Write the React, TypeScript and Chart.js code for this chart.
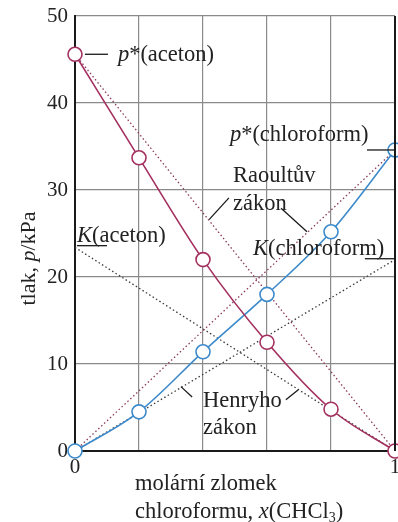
import { useEffect, useRef } from "react";
import { Chart, registerables } from "chart.js";

Chart.register(...registerables);

// Mole fraction of chloroform at the measured compositions
const moleFractions = [0, 0.2, 0.4, 0.6, 0.8, 1];
// Partial vapour pressures, kPa
const pAcetone = [45.6, 33.7, 22.0, 12.5, 4.8, 0];
const pChloroform = [0, 4.5, 11.4, 18.0, 25.2, 34.6];
// Henry's law constants, kPa
const kAcetone = 23.4;
const kChloroform = 22.0;
// Axis ticks
const yTickValues = [0, 10, 20, 30, 40, 50];
const xTickLabels = ["0", "1"];

const SERIF = '"Liberation Serif", "Times New Roman", serif';
const RED = "#a3305f";
const BLUE = "#3d8acb";

type Seg = { t: string; i?: boolean; sub?: boolean };

// Text labels placed in data coordinates
const notes: { x: number; y: number; segs: Seg[] }[] = [
  { x: 0.134, y: 45.5, segs: [{ t: "p", i: true }, { t: "*(aceton)" }] },
  { x: 0.484, y: 36.3, segs: [{ t: "p", i: true }, { t: "*(chloroform)" }] },
  { x: 0.494, y: 31.6, segs: [{ t: "Raoultův" }] },
  { x: 0.494, y: 28.4, segs: [{ t: "zákon" }] },
  { x: 0.006, y: 24.7, segs: [{ t: "K", i: true }, { t: "(aceton)" }] },
  { x: 0.556, y: 23.2, segs: [{ t: "K", i: true }, { t: "(chloroform)" }] },
  { x: 0.4, y: 5.75, segs: [{ t: "Henryho" }] },
  { x: 0.4, y: 2.64, segs: [{ t: "zákon" }] },
];

// Leader lines [x1, y1, x2, y2] in data coordinates
const leaders: number[][] = [
  [0.031, 45.6, 0.103, 45.6],
  [0.9125, 34.6, 1, 34.6],
  [0.006, 23.6, 0.1, 23.6],
  [0.906, 22.1, 1, 22.1],
  [0.419, 26.6, 0.481, 29.1],
  [0.644, 27.9, 0.725, 25.2],
  [0.331, 7.4, 0.366, 6.2],
  [0.659, 5.9, 0.697, 7.0],
];

function drawRich(ctx: CanvasRenderingContext2D, segs: Seg[], x: number, y: number, size: number) {
  let cx = x;
  for (const s of segs) {
    const fs = s.sub ? size * 0.62 : size;
    ctx.font = `${s.i ? "italic " : ""}${fs}px ${SERIF}`;
    ctx.fillText(s.t, cx, y + (s.sub ? size * 0.28 : 0));
    cx += ctx.measureText(s.t).width;
  }
  return cx - x;
}

function richWidth(ctx: CanvasRenderingContext2D, segs: Seg[], size: number) {
  let w = 0;
  for (const s of segs) {
    const fs = s.sub ? size * 0.62 : size;
    ctx.font = `${s.i ? "italic " : ""}${fs}px ${SERIF}`;
    w += ctx.measureText(s.t).width;
  }
  return w;
}

const overlay = {
  id: "overlay",
  afterDatasetsDraw(chart: any) {
    const { ctx, chartArea } = chart;
    const xs = chart.scales.x;
    const ys = chart.scales.y;
    ctx.save();

    // right frame line at x = 1
    ctx.strokeStyle = "#1a1a1a";
    ctx.lineWidth = 2;
    ctx.beginPath();
    ctx.moveTo(chartArea.right, chartArea.top);
    ctx.lineTo(chartArea.right, chartArea.bottom);
    ctx.stroke();

    // leader lines
    ctx.strokeStyle = "#1a1a1a";
    ctx.lineWidth = 1.3;
    for (const [x1, y1, x2, y2] of leaders) {
      ctx.beginPath();
      ctx.moveTo(xs.getPixelForValue(x1), ys.getPixelForValue(y1));
      ctx.lineTo(xs.getPixelForValue(x2), ys.getPixelForValue(y2));
      ctx.stroke();
    }

    // labels
    ctx.fillStyle = "#222";
    ctx.textBaseline = "middle";
    ctx.textAlign = "left";
    for (const n of notes) {
      drawRich(ctx, n.segs, xs.getPixelForValue(n.x), ys.getPixelForValue(n.y), 22.5);
    }

    // y axis title
    const yTitle: Seg[] = [{ t: "tlak, " }, { t: "p", i: true }, { t: "/kPa" }];
    const w = richWidth(ctx, yTitle, 22);
    ctx.save();
    ctx.translate(29, (chartArea.top + chartArea.bottom) / 2 + 25);
    ctx.rotate(-Math.PI / 2);
    drawRich(ctx, yTitle, -w / 2, 0, 22);
    ctx.restore();

    // x axis title
    const left = chartArea.left + 60;
    drawRich(ctx, [{ t: "molární zlomek" }], left, chartArea.bottom + 33, 22.5);
    drawRich(
      ctx,
      [{ t: "chloroformu, " }, { t: "x", i: true }, { t: "(CHCl" }, { t: "3", sub: true }, { t: ")" }],
      left,
      chartArea.bottom + 61,
      22.5
    );
    ctx.restore();
  },
};

export default function App() {
  const ref = useRef<HTMLCanvasElement>(null);

  useEffect(() => {
    document.body.style.margin = "0";
    const canvas = ref.current;
    if (!canvas) return;

    const pts = (ys: number[]) => moleFractions.map((x, i) => ({ x, y: ys[i] }));
    const first = moleFractions[0];
    const last = moleFractions[moleFractions.length - 1];

    const dotted = (data: { x: number; y: number }[], color: string) => ({
      data,
      borderColor: color,
      borderWidth: 1.3,
      borderDash: [1.5, 2.5],
      pointRadius: 0,
      fill: false,
      tension: 0,
      clip: false,
    });

    const curve = (ys: number[], color: string) => ({
      data: pts(ys),
      borderColor: color,
      borderWidth: 1.6,
      pointRadius: 7,
      pointBorderWidth: 1.6,
      pointBackgroundColor: "#fff",
      pointBorderColor: color,
      cubicInterpolationMode: "monotone",
      fill: false,
      clip: false,
    });

    const chart = new Chart(canvas, {
      type: "line",
      data: {
        datasets: [
          curve(pAcetone, RED),
          curve(pChloroform, BLUE),
          // Raoult's law lines
          dotted(
            [
              { x: first, y: pAcetone[0] },
              { x: last, y: 0 },
            ],
            "#8c3a5c"
          ),
          dotted(
            [
              { x: first, y: 0 },
              { x: last, y: pChloroform[pChloroform.length - 1] },
            ],
            "#8c3a5c"
          ),
          // Henry's law lines
          dotted(
            [
              { x: first, y: kAcetone },
              { x: last, y: 0 },
            ],
            "#3a3a3a"
          ),
          dotted(
            [
              { x: first, y: 0 },
              { x: last, y: kChloroform },
            ],
            "#3a3a3a"
          ),
        ] as any,
      },
      options: {
        responsive: false,
        animation: false,
        layout: { autoPadding: false, padding: { top: 16, right: 3, left: 0, bottom: 0 } },
        plugins: {
          legend: { display: false },
          tooltip: { enabled: false },
        },
        scales: {
          x: {
            type: "linear",
            min: 0,
            max: 1,
            afterFit: (s: any) => {
              s.height = 71;
              s.paddingLeft = 0;
              s.paddingRight = 0;
            },
            afterBuildTicks: (s: any) => {
              s.ticks = moleFractions.map((v) => ({ value: v }));
            },
            ticks: {
              color: "#222",
              font: { family: SERIF, size: 21 },
              padding: 4,
              maxRotation: 0,
              autoSkip: false,
              callback: (v: any) => {
                const n = Number(v);
                if (Math.abs(n - 0) < 1e-6) return xTickLabels[0];
                if (Math.abs(n - 1) < 1e-6) return xTickLabels[1];
                return "";
              },
            },
            grid: { color: "#8a8a8a", lineWidth: 1.2, drawTicks: false },
            border: { color: "#1a1a1a", width: 2 },
          },
          y: {
            type: "linear",
            min: 0,
            max: 50,
            afterFit: (s: any) => {
              s.width = 75;
              s.paddingTop = 0;
              s.paddingBottom = 0;
            },
            afterBuildTicks: (s: any) => {
              s.ticks = yTickValues.map((v) => ({ value: v }));
            },
            ticks: {
              color: "#222",
              font: { family: SERIF, size: 21 },
              padding: 7,
            },
            grid: { color: "#8a8a8a", lineWidth: 1.2, drawTicks: false },
            border: { color: "#1a1a1a", width: 2 },
          },
        },
      },
      plugins: [overlay],
    });

    return () => chart.destroy();
  }, []);

  return (
    <div style={{ width: 398, height: 522, background: "#fff" }}>
      <canvas ref={ref} width={398} height={522} style={{ display: "block" }} />
    </div>
  );
}
